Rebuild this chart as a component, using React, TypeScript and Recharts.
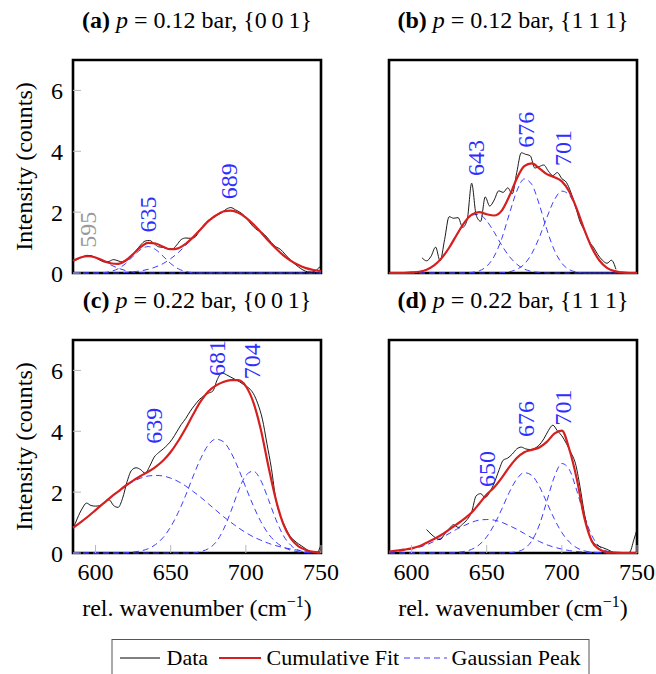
import React from "react";
import { LineChart, Line, XAxis, YAxis, ReferenceArea, ReferenceDot } from "recharts";

const FONT = "'Liberation Serif', 'Times New Roman', Times, serif";

// ---------- shared axes ----------
const X_DOMAIN = [585, 750];
const Y_DOMAIN = [0, 7];
const X_TICKS = [600, 650, 700, 750];
const Y_TICKS = [0, 2, 4, 6];
const X_GRID = [585, 590, 595, 600, 605, 610, 615, 620, 625, 630, 635, 640, 645, 650, 655, 660, 665, 670, 675, 680, 685, 690, 695, 700, 705, 710, 715, 720, 725, 730, 735, 740, 745, 750];

// ---------- (a) p = 0.12 bar, {0 0 1} ----------
const A_DATA_X = [585, 588, 591, 594, 597, 600, 603, 606, 609, 612, 615, 618, 621, 624, 627, 630, 633, 636, 639, 642, 645, 648, 651, 654, 657, 660, 663, 666, 669, 672, 675, 678, 681, 684, 687, 690, 693, 696, 699, 702, 705, 708, 711, 714, 717, 720, 723, 726, 729, 732, 735, 738, 741, 744, 747, 750];
const A_DATA_Y = [0.38, 0.45, 0.52, 0.58, 0.57, 0.50, 0.42, 0.36, 0.38, 0.44, 0.40, 0.36, 0.42, 0.56, 0.74, 0.92, 1.05, 1.07, 0.96, 0.86, 0.84, 0.80, 0.79, 0.92, 1.10, 1.15, 1.14, 1.17, 1.38, 1.58, 1.73, 1.82, 1.90, 1.98, 2.10, 2.15, 2.08, 2.00, 1.88, 1.70, 1.52, 1.40, 1.32, 1.18, 1.00, 0.86, 0.78, 0.62, 0.46, 0.32, 0.20, 0.10, 0.04, 0.03, 0.10, 0.24];
const A_FIT = [0.40, 0.51, 0.55, 0.51, 0.41, 0.32, 0.30, 0.41, 0.62, 0.85, 0.99, 0.97, 0.86, 0.78, 0.81, 0.96, 1.18, 1.44, 1.70, 1.89, 2.02, 2.05, 1.98, 1.82, 1.60, 1.34, 1.06, 0.81, 0.58, 0.40, 0.26, 0.16, 0.10, 0.06];
const A_PEAK_595 = [0.40, 0.51, 0.55, 0.51, 0.40, 0.27, 0.16, 0.08, 0.03, 0.01, 0, 0, 0, 0, 0, 0, 0, 0, 0, 0, 0, 0, 0, 0, 0, 0, 0, 0, 0, 0, 0, 0, 0, 0];
const A_PEAK_635 = [0, 0, 0, 0, 0.01, 0.05, 0.14, 0.31, 0.55, 0.77, 0.87, 0.77, 0.55, 0.31, 0.14, 0.05, 0.01, 0, 0, 0, 0, 0, 0, 0, 0, 0, 0, 0, 0, 0, 0, 0, 0, 0];
const A_PEAK_689 = [0, 0, 0, 0, 0, 0, 0, 0.02, 0.04, 0.07, 0.12, 0.20, 0.31, 0.47, 0.67, 0.91, 1.17, 1.44, 1.70, 1.89, 2.02, 2.05, 1.98, 1.82, 1.60, 1.34, 1.06, 0.81, 0.58, 0.40, 0.26, 0.16, 0.10, 0.06];
const A_LABELS = ["595", "635", "689"];
const A_LABEL_X = [595, 635, 689];
const A_LABEL_Y = [0.83, 1.33, 2.42];

// ---------- (b) p = 0.12 bar, {1 1 1} ----------
const B_DATA_X = [607, 610, 613, 616, 619, 622, 625, 628, 631, 634, 637, 640, 643, 646, 649, 652, 655, 658, 661, 664, 667, 670, 673, 676, 679, 682, 685, 688, 691, 694, 697, 700, 703, 706, 709, 712, 715, 718, 721, 724, 727, 730, 733, 736];
const B_DATA_Y = [0.50, 0.40, 0.55, 0.85, 0.40, 1.10, 1.85, 1.80, 1.82, 1.50, 1.75, 2.95, 1.90, 1.70, 2.50, 2.20, 2.40, 2.70, 2.65, 2.80, 2.60, 3.30, 3.95, 3.90, 3.85, 3.45, 3.50, 3.55, 3.35, 3.20, 3.30, 3.10, 2.98, 2.65, 2.20, 1.70, 1.40, 1.05, 0.85, 0.60, 0.42, 0.32, 0.42, 0.12];
const B_FIT = [0, 0, 0, 0.02, 0.04, 0.11, 0.25, 0.49, 0.83, 1.25, 1.65, 1.92, 2.00, 1.93, 1.89, 2.05, 2.52, 3.10, 3.51, 3.60, 3.44, 3.25, 3.15, 3.01, 2.67, 2.10, 1.42, 0.83, 0.41, 0.17, 0.06, 0.02, 0, 0];
const B_PEAK_643 = [0, 0, 0, 0.02, 0.04, 0.11, 0.25, 0.49, 0.83, 1.25, 1.65, 1.90, 1.93, 1.71, 1.34, 0.91, 0.55, 0.29, 0.13, 0.05, 0.02, 0, 0, 0, 0, 0, 0, 0, 0, 0, 0, 0, 0, 0];
const B_PEAK_676 = [0, 0, 0, 0, 0, 0, 0, 0, 0, 0, 0, 0.02, 0.07, 0.22, 0.55, 1.13, 1.93, 2.69, 3.09, 2.91, 2.25, 1.43, 0.75, 0.32, 0.11, 0.03, 0, 0, 0, 0, 0, 0, 0, 0];
const B_PEAK_701 = [0, 0, 0, 0, 0, 0, 0, 0, 0, 0, 0, 0, 0, 0, 0, 0.01, 0.04, 0.12, 0.29, 0.64, 1.17, 1.82, 2.40, 2.69, 2.56, 2.07, 1.42, 0.83, 0.41, 0.17, 0.06, 0.02, 0, 0];
const B_LABELS = ["643", "676", "701"];
const B_LABEL_X = [643, 676, 701];
const B_LABEL_Y = [3.19, 4.12, 3.52];

// ---------- (c) p = 0.22 bar, {0 0 1} ----------
const C_DATA_X = [585, 588, 591, 594, 597, 600, 603, 606, 609, 612, 615, 618, 621, 624, 627, 630, 633, 636, 639, 642, 645, 648, 651, 654, 657, 660, 663, 666, 669, 672, 675, 678, 681, 684, 687, 690, 693, 696, 699, 702, 705, 708, 711, 714, 717, 720, 723, 726, 729, 732, 735, 738, 741, 744, 747, 750];
const C_DATA_Y = [0.78, 1.15, 1.45, 1.64, 1.56, 1.54, 1.56, 1.66, 1.75, 1.56, 1.50, 1.80, 2.35, 2.72, 2.80, 2.74, 2.62, 2.85, 3.15, 3.30, 3.42, 3.56, 3.74, 3.98, 4.22, 4.42, 4.66, 4.86, 5.04, 5.16, 5.25, 5.32, 5.70, 5.92, 5.86, 5.78, 5.70, 5.62, 5.52, 5.42, 5.24, 4.90, 4.40, 3.60, 2.78, 1.75, 1.22, 0.88, 0.58, 0.42, 0.30, 0.20, 0.10, 0.03, 0.00, 0.27];
const C_FIT = [0.83, 1.01, 1.20, 1.41, 1.62, 1.83, 2.02, 2.21, 2.38, 2.53, 2.67, 2.83, 3.04, 3.32, 3.68, 4.10, 4.56, 4.99, 5.31, 5.50, 5.62, 5.68, 5.68, 5.48, 4.95, 4.05, 2.85, 1.75, 0.94, 0.47, 0.22, 0.10, 0.04, 0.03];
const C_PEAK_639 = [0.83, 1.01, 1.20, 1.41, 1.62, 1.83, 2.02, 2.20, 2.35, 2.46, 2.53, 2.55, 2.53, 2.46, 2.35, 2.20, 2.02, 1.83, 1.62, 1.41, 1.20, 1.01, 0.83, 0.67, 0.53, 0.42, 0.32, 0.24, 0.18, 0.13, 0.09, 0.06, 0.04, 0.03];
const C_PEAK_681 = [0, 0, 0, 0, 0, 0, 0, 0.01, 0.03, 0.07, 0.14, 0.28, 0.51, 0.86, 1.33, 1.90, 2.53, 3.11, 3.55, 3.74, 3.66, 3.31, 2.78, 2.15, 1.55, 1.03, 0.63, 0.36, 0.19, 0.09, 0.04, 0.01, 0, 0];
const C_PEAK_704 = [0, 0, 0, 0, 0, 0, 0, 0, 0, 0, 0, 0, 0, 0, 0, 0, 0, 0.05, 0.14, 0.35, 0.76, 1.36, 2.03, 2.55, 2.69, 2.38, 1.76, 1.10, 0.57, 0.25, 0.09, 0.03, 0, 0];
const C_LABELS = ["639", "681", "704"];
const C_LABEL_X = [639, 681, 704];
const C_LABEL_Y = [3.59, 5.82, 5.71];

// ---------- (d) p = 0.22 bar, {1 1 1} ----------
const D_DATA_X = [610, 613, 616, 619, 622, 625, 628, 631, 634, 637, 640, 643, 646, 649, 652, 655, 658, 661, 664, 667, 670, 673, 676, 679, 682, 685, 688, 691, 694, 697, 700, 703, 706, 709, 712, 715, 718, 721, 724, 727, 730, 733, 736, 739, 742, 745, 748, 750];
const D_DATA_Y = [0.77, 0.62, 0.50, 0.44, 0.62, 0.80, 0.93, 0.84, 0.95, 1.10, 1.35, 1.88, 1.95, 1.82, 2.00, 2.30, 2.70, 3.05, 3.12, 3.25, 3.42, 3.48, 3.42, 3.40, 3.44, 3.55, 3.75, 4.02, 4.20, 4.02, 3.85, 3.60, 3.30, 2.95, 2.20, 1.30, 0.65, 0.35, 0.24, 0.18, 0.12, 0.05, 0.00, 0.00, 0.00, 0.02, 0.45, 0.77];
const D_FIT = [0.05, 0.08, 0.11, 0.15, 0.22, 0.34, 0.46, 0.60, 0.77, 0.94, 1.12, 1.33, 1.62, 1.92, 2.16, 2.47, 2.82, 3.12, 3.31, 3.39, 3.47, 3.65, 3.92, 4.02, 3.40, 2.42, 1.15, 0.38, 0.12, 0.03, 0.01, 0, 0, 0];
const D_PEAK_650 = [0.03, 0.05, 0.08, 0.13, 0.19, 0.27, 0.38, 0.50, 0.64, 0.78, 0.90, 1.01, 1.08, 1.10, 1.08, 1.01, 0.90, 0.78, 0.64, 0.50, 0.38, 0.27, 0.19, 0.13, 0.08, 0.05, 0.03, 0.02, 0.01, 0, 0, 0, 0, 0];
const D_PEAK_676 = [0, 0, 0, 0, 0, 0, 0, 0, 0, 0.02, 0.05, 0.12, 0.27, 0.53, 0.93, 1.44, 1.99, 2.43, 2.64, 2.55, 2.19, 1.66, 1.12, 0.67, 0.36, 0.17, 0.07, 0.03, 0.01, 0, 0, 0, 0, 0];
const D_PEAK_701 = [0, 0, 0, 0, 0, 0, 0, 0, 0, 0, 0, 0, 0, 0, 0, 0, 0.01, 0.04, 0.14, 0.40, 0.92, 1.70, 2.50, 2.94, 2.74, 2.04, 1.21, 0.57, 0.21, 0.06, 0.02, 0, 0, 0];
const D_LABELS = ["650", "676", "701"];
const D_LABEL_X = [650, 676, 701];
const D_LABEL_Y = [2.17, 3.81, 4.19];

// ---------- styles ----------
const C_DATA = "#000000";
const C_FIT_COL = "#d61f1f";
const C_PEAK = "#3d3dff";
const C_LABEL = "#2e2eff";
const C_LABEL_GRAY = "#9a9a9a";
const C_TICK = "#b8b8b8";
const FS = 24;

const PLOT_W = 248;
const PLOT_H = 213;
const Y_AXIS_W = 73;
const X_AXIS_H = 75;
const M_TOP = 9;
const M_RIGHT = 26;
const CHART_W = Y_AXIS_W + PLOT_W + 1 + M_RIGHT;
const CHART_H = M_TOP + 1 + PLOT_H + X_AXIS_H;

const toPts = (xs: number[], ys: number[]) => xs.map((x, i) => ({ x, y: ys[i] }));

const XLabel = (props: any) => {
  const vb = props.viewBox || {};
  const cx = vb.x + vb.width / 2;
  const y = vb.y + 63;
  return (
    <text x={cx} y={y} textAnchor="middle" fontFamily={FONT} fontSize={FS} fill="#000">
      rel. wavenumber (cm
      <tspan dy={-9} fontSize={16}>−1</tspan>
      <tspan dy={9}>)</tspan>
    </text>
  );
};

const YLabel = (props: any) => {
  const vb = props.viewBox || {};
  const cx = vb.x + 24;
  const cy = vb.y + vb.height / 2;
  return (
    <text
      x={cx}
      y={cy}
      transform={`rotate(-90 ${cx} ${cy})`}
      textAnchor="middle"
      dominantBaseline="central"
      fontFamily={FONT}
      fontSize={FS}
      fill="#000"
    >
      Intensity (counts)
    </text>
  );
};

type PanelProps = {
  left: number;
  top: number;
  showX: boolean;
  showY: boolean;
  dataX: number[];
  dataY: number[];
  fit: number[];
  peaks: number[][];
  labels: string[];
  labelX: number[];
  labelY: number[];
  grayFirst?: boolean;
};

function Panel(p: PanelProps) {
  const dataPts = toPts(p.dataX, p.dataY);
  const fitPts = toPts(X_GRID, p.fit);
  return (
    <div style={{ position: "absolute", left: p.left, top: p.top }}>
      <LineChart width={CHART_W} height={CHART_H} margin={{ top: M_TOP, right: M_RIGHT, bottom: 0, left: 0 }}>
        <XAxis
          xAxisId="b"
          dataKey="x"
          type="number"
          domain={X_DOMAIN}
          ticks={X_TICKS}
          interval={0}
          height={X_AXIS_H}
          tickSize={-8}
          tickMargin={18}
          axisLine={false}
          tickLine={{ stroke: C_TICK, strokeWidth: 1 }}
          tick={p.showX ? { fill: "#000", fontSize: FS, fontFamily: FONT } : false}
          label={p.showX ? { content: XLabel } : undefined}
        />
        <XAxis
          xAxisId="t"
          orientation="top"
          dataKey="x"
          type="number"
          domain={X_DOMAIN}
          ticks={X_TICKS}
          interval={0}
          height={1}
          tickSize={-8}
          axisLine={false}
          tickLine={{ stroke: C_TICK, strokeWidth: 1 }}
          tick={false}
        />
        <YAxis
          yAxisId="l"
          type="number"
          domain={Y_DOMAIN}
          ticks={Y_TICKS}
          interval={0}
          width={Y_AXIS_W}
          tickSize={-8}
          tickMargin={18}
          axisLine={false}
          tickLine={{ stroke: C_TICK, strokeWidth: 1 }}
          tick={p.showY ? { fill: "#000", fontSize: FS, fontFamily: FONT } : false}
          label={p.showY ? { content: YLabel } : undefined}
        />
        <YAxis
          yAxisId="r"
          orientation="right"
          type="number"
          domain={Y_DOMAIN}
          ticks={Y_TICKS}
          interval={0}
          width={1}
          tickSize={-8}
          axisLine={false}
          tickLine={{ stroke: C_TICK, strokeWidth: 1 }}
          tick={false}
        />
        <ReferenceArea
          xAxisId="b"
          yAxisId="l"
          x1={X_DOMAIN[0]}
          x2={X_DOMAIN[1]}
          y1={Y_DOMAIN[0]}
          y2={Y_DOMAIN[1]}
          fill="none"
          fillOpacity={0}
          stroke="#000"
          strokeWidth={2.6}
        />
        {p.peaks.map((pk, i) => (
          <Line
            key={"pk" + i}
            xAxisId="b"
            yAxisId="l"
            data={toPts(X_GRID, pk)}
            dataKey="y"
            type="monotone"
            stroke={C_PEAK}
            strokeWidth={1}
            strokeDasharray="6 4"
            dot={false}
            activeDot={false}
            isAnimationActive={false}
          />
        ))}
        <Line
          xAxisId="b"
          yAxisId="l"
          data={dataPts}
          dataKey="y"
          type="monotone"
          stroke={C_DATA}
          strokeWidth={0.9}
          dot={false}
          activeDot={false}
          isAnimationActive={false}
        />
        <Line
          xAxisId="b"
          yAxisId="l"
          data={fitPts}
          dataKey="y"
          type="monotone"
          stroke={C_FIT_COL}
          strokeWidth={2.2}
          dot={false}
          activeDot={false}
          isAnimationActive={false}
        />
        {p.labels.map((t, i) => (
          <ReferenceDot
            key={"lb" + i}
            xAxisId="b"
            yAxisId="l"
            x={p.labelX[i]}
            y={p.labelY[i]}
            r={0}
            shape={(sp: any) => (
              <text
                x={sp.cx}
                y={sp.cy}
                transform={`rotate(-90 ${sp.cx} ${sp.cy})`}
                textAnchor="start"
                dominantBaseline="central"
                fontFamily={FONT}
                fontSize={FS}
                fill={p.grayFirst && i === 0 ? C_LABEL_GRAY : C_LABEL}
              >
                {t}
              </text>
            )}
          />
        ))}
      </LineChart>
    </div>
  );
}

const Title = ({ x, y, letter, pressure, facet }: { x: number; y: number; letter: string; pressure: string; facet: string }) => (
  <text x={x} y={y} textAnchor="middle" fontFamily={FONT} fontSize={FS} fill="#000">
    <tspan fontWeight="bold">{"(" + letter + ")"}</tspan>
    <tspan>{" "}</tspan>
    <tspan fontStyle="italic">p</tspan>
    <tspan>{" = " + pressure + " bar, {" + facet + "}"}</tspan>
  </text>
);

export default function App() {
  const topRow = 49.5;
  const botRow = 330;
  return (
    <div style={{ position: "relative", width: 656, height: 674, overflow: "hidden", background: "#fff" }}>
      <style>{"html,body{margin:0;padding:0;overflow:hidden;background:#fff}"}</style>
      <Panel left={0} top={topRow} showX={false} showY={true} dataX={A_DATA_X} dataY={A_DATA_Y} fit={A_FIT}
        peaks={[A_PEAK_595, A_PEAK_635, A_PEAK_689]} labels={A_LABELS} labelX={A_LABEL_X} labelY={A_LABEL_Y} grayFirst />
      <Panel left={316} top={topRow} showX={false} showY={false} dataX={B_DATA_X} dataY={B_DATA_Y} fit={B_FIT}
        peaks={[B_PEAK_643, B_PEAK_676, B_PEAK_701]} labels={B_LABELS} labelX={B_LABEL_X} labelY={B_LABEL_Y} />
      <Panel left={0} top={botRow} showX={true} showY={true} dataX={C_DATA_X} dataY={C_DATA_Y} fit={C_FIT}
        peaks={[C_PEAK_639, C_PEAK_681, C_PEAK_704]} labels={C_LABELS} labelX={C_LABEL_X} labelY={C_LABEL_Y} />
      <Panel left={316} top={botRow} showX={true} showY={false} dataX={D_DATA_X} dataY={D_DATA_Y} fit={D_FIT}
        peaks={[D_PEAK_650, D_PEAK_676, D_PEAK_701]} labels={D_LABELS} labelX={D_LABEL_X} labelY={D_LABEL_Y} />
      <svg width={656} height={674} style={{ position: "absolute", left: 0, top: 0, pointerEvents: "none" }}>
        <Title x={197} y={28} letter="a" pressure="0.12" facet={"0\u20090\u20091"} />
        <Title x={513} y={28} letter="b" pressure="0.12" facet={"1\u20091\u20091"} />
        <Title x={197} y={308} letter="c" pressure="0.22" facet={"0\u20090\u20091"} />
        <Title x={513} y={308} letter="d" pressure="0.22" facet={"1\u20091\u20091"} />
        <rect x={112} y={639.5} width={477} height={60} fill="none" stroke="#555" strokeWidth={1} />
        <line x1={120} y1={658} x2={160} y2={658} stroke={C_DATA} strokeWidth={1} />
        <text x={166.5} y={665} fontFamily={FONT} fontSize={22} fill="#000">Data</text>
        <line x1={219} y1={658} x2={261} y2={658} stroke={C_FIT_COL} strokeWidth={2.2} />
        <text x={266.5} y={665} fontFamily={FONT} fontSize={22} fill="#000">Cumulative Fit</text>
        <line x1={404} y1={658} x2={447} y2={658} stroke={C_PEAK} strokeWidth={1} strokeDasharray="6 4" />
        <text x={451.5} y={665} fontFamily={FONT} fontSize={22} fill="#000">Gaussian Peak</text>
      </svg>
    </div>
  );
}
